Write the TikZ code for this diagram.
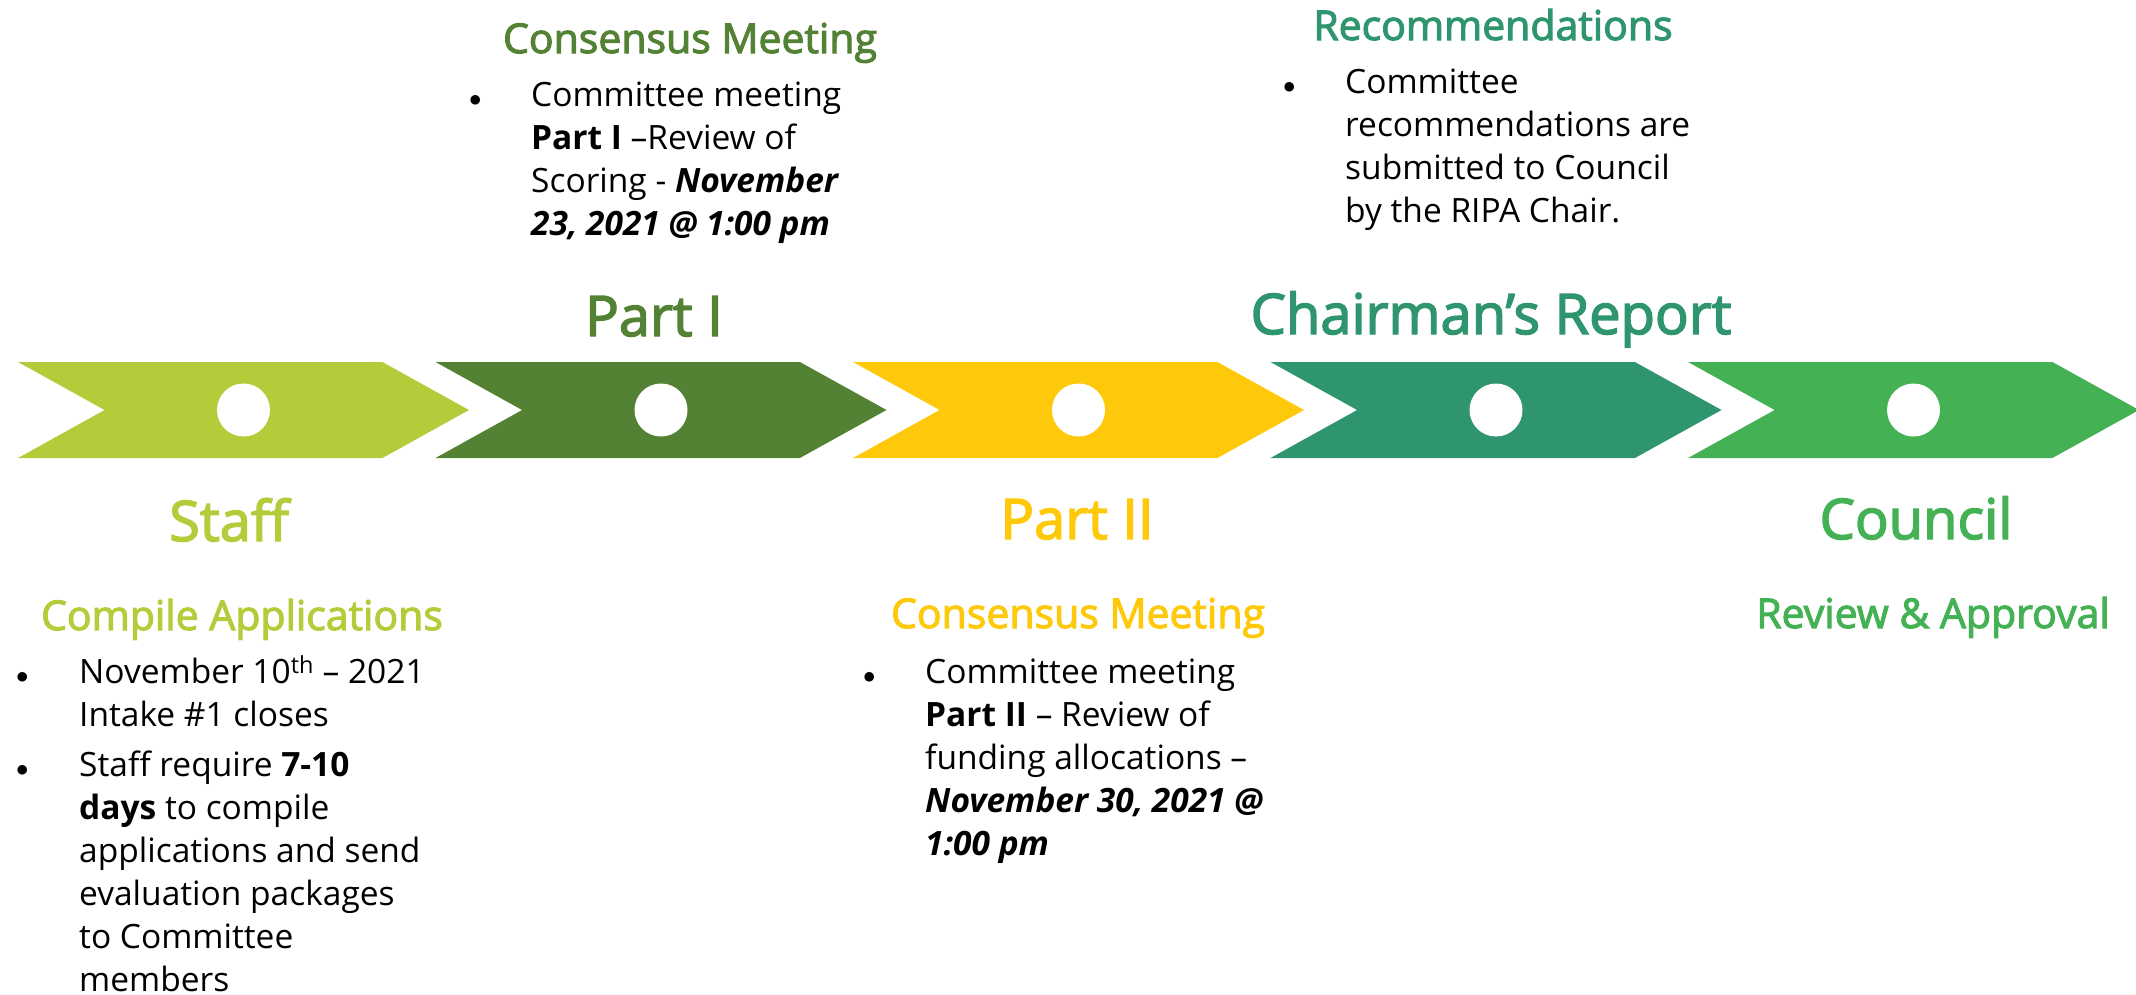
\documentclass[tikz,border=0pt]{standalone}
\usepackage{fontspec}
\setmainfont{Open Sans}
\newfontfamily\titlefont[FakeBold=2.6]{Open Sans}
\usepackage{tikz}
\usetikzlibrary{shapes.symbols}
\definecolor{staffc}{HTML}{B5CB39}
\definecolor{partic}{HTML}{548235}
\definecolor{partiic}{HTML}{FFC90B}
\definecolor{chairc}{HTML}{2E956E}
\definecolor{councilc}{HTML}{43B154}
\newcommand{\bul}{{\fontsize{44}{43}\selectfont$\bullet$}}
\tikzstyle{chevron} = [signal, signal from=west, signal to=east, signal pointer angle=58,
    minimum width=451pt, minimum height=96pt, inner sep=0pt, outer sep=0pt, draw=none]
\tikzstyle{dot} = [circle, fill=white, minimum size=53pt, inner sep=0pt]
\tikzstyle{stage} = [font=\titlefont\fontsize{56}{60}\selectfont, anchor=base]
\tikzstyle{heading} = [font=\titlefont\fontsize{41}{48}\selectfont, anchor=base]
\tikzstyle{notes} = [font=\fontsize{33.5}{43}\selectfont, anchor=base west, inner sep=0pt]

\begin{document}
\begin{tikzpicture}[x=1pt, y=-1pt]
    \useasboundingbox (0,0) rectangle (2136,994);
    % the five steps
    \node [chevron, fill=staffc] (staff) at (243.5,410) {};
    \node [chevron, fill=partic, right of=staff, node distance=417.5pt] (parti) {};
    \node [chevron, fill=partiic, right of=parti, node distance=417.5pt] (partii) {};
    \node [chevron, fill=chairc, right of=partii, node distance=417.5pt] (chair) {};
    \node [chevron, fill=councilc, right of=chair, node distance=417.5pt] (council) {};
    \node [dot] (staffdot) at (staff.center) {};
    \node [dot] (partidot) at (parti.center) {};
    \node [dot] (partiidot) at (partii.center) {};
    \node [dot] (chairdot) at (chair.center) {};
    \node [dot] (councildot) at (council.center) {};
    % step titles
    \node [stage, text=staffc] (stafftitle) at (229,541) {Staff};
    \node [stage, text=partic] (partititle) at (654,336) {Part I};
    \node [stage, text=partiic] (partiititle) at (1077,539) {Part II};
    \node [stage, text=chairc] (chairtitle) at (1491,334) {Chairman’s Report};
    \node [stage, text=councilc] (counciltitle) at (1916,539) {Council};
    % sub headings
    \node [heading, text=staffc] (compile) at (242,630) {Compile Applications};
    \node [heading, text=partic] (consensusi) at (690,53) {Consensus Meeting};
    \node [heading, text=partiic] (consensusii) at (1078,628) {Consensus Meeting};
    \node [heading, text=chairc] (recommend) at (1493,40) {Recommendations};
    \node [heading, text=councilc] (approval) at (1933,628) {Review \& Approval};
    % notes
    \node [notes] (staffnotes) at (16,683) {\begin{tabular}[t]{@{}p{63pt}@{}l@{}}
        \bul & November 10\textsuperscript{th} – 2021\\
        & Intake \#1 closes\\[7pt]
        \bul & Staff require \textbf{7-10}\\
        & \textbf{days} to compile\\
        & applications and send\\
        & evaluation packages\\
        & to Committee\\
        & members
    \end{tabular}};
    \node [notes] (partinotes) at (469,106) {\begin{tabular}[t]{@{}p{62pt}@{}l@{}}
        \bul & Committee meeting\\
        & \textbf{Part I} –Review of\\
        & Scoring - \textbf{\textit{November}}\\
        & \textbf{\textit{23, 2021 @ 1:00 pm}}
    \end{tabular}};
    \node [notes] (partiinotes) at (863,683) {\begin{tabular}[t]{@{}p{62pt}@{}l@{}}
        \bul & Committee meeting\\
        & \textbf{Part II} – Review of\\
        & funding allocations –\\
        & \textbf{\textit{November 30, 2021 @}}\\
        & \textbf{\textit{1:00 pm}}
    \end{tabular}};
    \node [notes] (chairnotes) at (1283,93) {\begin{tabular}[t]{@{}p{62pt}@{}l@{}}
        \bul & Committee\\
        & recommendations are\\
        & submitted to Council\\
        & by the RIPA Chair.
    \end{tabular}};
\end{tikzpicture}
\end{document}
